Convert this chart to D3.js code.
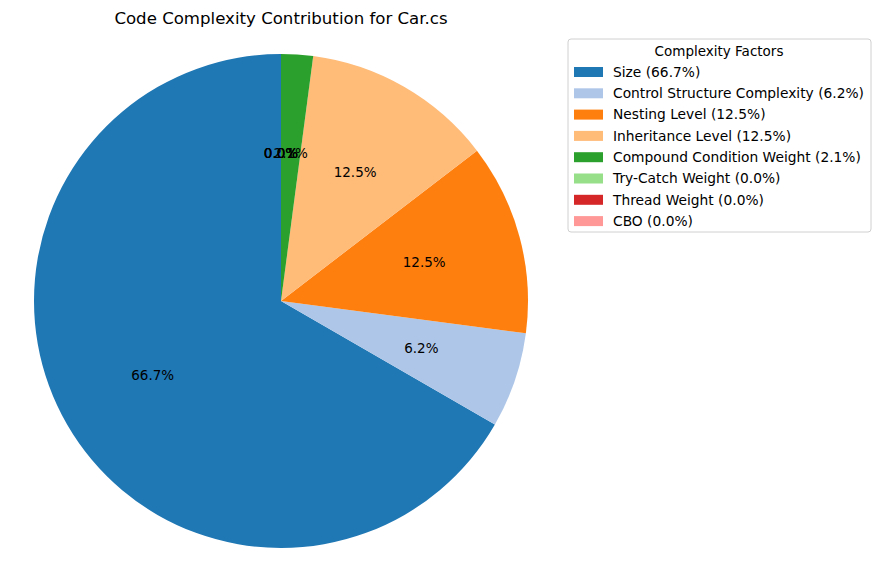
<!DOCTYPE html>
<html>
<head>
<meta charset="utf-8">
<script src="https://cdn.jsdelivr.net/npm/d3@7"></script>
<style>
  body { margin: 0; background: #fff; }
  text { font-family: "DejaVu Sans", sans-serif; }
</style>
</head>
<body>
<svg id="chart" width="881" height="581"></svg>
<script>
const labels = ["Size", "Control Structure Complexity", "Nesting Level", "Inheritance Level",
  "Compound Condition Weight", "Try-Catch Weight", "Thread Weight", "CBO"]
const values = [32, 3, 6, 6, 1, 0, 0, 0]
const colors = ["#1f77b4", "#aec7e8", "#ff7f0e", "#ffbb78", "#2ca02c", "#98df8a", "#d62728", "#ff9896"]

const svg = d3.select("#chart")
const cx = 281, cy = 301, r = 247
const total = d3.sum(values)
// round exact halves down the way Python's %1.1f does for 6.25
const pct = v => Math.max(0, v / total * 100 - 1e-9).toFixed(1) + "%"

svg.append("text").attr("x", cx).attr("y", 24).attr("text-anchor", "middle")
  .style("font-size", "16.6px").text("Code Complexity Contribution for Car.cs")

// matplotlib startangle=90, counterclockwise
const pie = d3.pie().sort(null).startAngle(0).endAngle(-2 * Math.PI)
const arcs = pie(values)
const arc = d3.arc().innerRadius(0).outerRadius(r)
const labelArc = d3.arc().innerRadius(r * 1.2).outerRadius(r * 1.2) // centroid of this = 0.6r

const g = svg.append("g").attr("transform", `translate(${cx},${cy})`)
g.selectAll("path").data(arcs).enter().append("path")
  .attr("d", arc).attr("fill", (d, i) => colors[i])

g.selectAll("text.pct").data(arcs).enter().append("text")
  .attr("class", "pct")
  .attr("transform", d => {
    const a = (d.startAngle + d.endAngle) / 2
    return `translate(${0.6 * r * Math.sin(a)},${-0.6 * r * Math.cos(a)})`
  })
  .attr("text-anchor", "middle").attr("dy", "0.35em")
  .style("font-size", "13.5px")
  .text(d => pct(d.data))

// legend
const lg = svg.append("g").attr("transform", "translate(568,39)")
lg.append("rect").attr("width", 303).attr("height", 193).attr("rx", 3)
  .attr("fill", "#fff").attr("stroke", "#d0d0d0")
lg.append("text").attr("x", 151).attr("y", 17).attr("text-anchor", "middle")
  .style("font-size", "13.5px").text("Complexity Factors")
const items = lg.selectAll("g.item").data(labels).enter().append("g")
  .attr("transform", (d, i) => `translate(6,${33 + i * 21.3})`)
items.append("rect").attr("width", 29).attr("height", 10).attr("y", -5)
  .attr("fill", (d, i) => colors[i])
items.append("text").attr("x", 39).attr("dy", "0.35em").style("font-size", "13.8px")
  .text((d, i) => `${d} (${pct(values[i])})`)
</script>
</body>
</html>
